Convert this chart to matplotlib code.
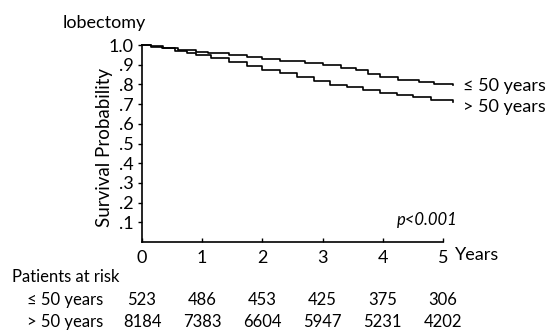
import matplotlib
matplotlib.use("Agg")
import matplotlib.pyplot as plt
from matplotlib.transforms import blended_transform_factory

plt.rcParams['font.family'] = ['Lato', 'DejaVu Sans']

# Kaplan-Meier step data
t_young = [0, 0.15, 0.35, 0.6, 0.9, 1.1, 1.45, 1.75, 2.0, 2.3, 2.7, 3.0, 3.3, 3.55, 3.75, 3.95, 4.25, 4.6, 4.85, 5.17]
s_young = [1.0, 0.995, 0.985, 0.975, 0.966, 0.958, 0.949, 0.940, 0.928, 0.920, 0.908, 0.898, 0.885, 0.874, 0.852, 0.836, 0.820, 0.812, 0.804, 0.797]

t_old = [0, 0.15, 0.33, 0.55, 0.75, 0.9, 1.15, 1.45, 1.75, 2.0, 2.3, 2.57, 2.85, 3.12, 3.4, 3.67, 3.95, 4.23, 4.5, 4.8, 5.17]
s_old = [1.0, 0.992, 0.983, 0.970, 0.958, 0.949, 0.932, 0.915, 0.895, 0.873, 0.856, 0.839, 0.818, 0.797, 0.785, 0.772, 0.758, 0.746, 0.735, 0.722, 0.712]

x_ticks = [0, 1, 2, 3, 4, 5]
y_ticks = [0.1, 0.2, 0.3, 0.4, 0.5, 0.6, 0.7, 0.8, 0.9, 1.0]
y_ticklabels = ['.1', '.2', '.3', '.4', '.5', '.6', '.7', '.8', '.9', '1.0']

risk_young = [523, 486, 453, 425, 375, 306]
risk_old = [8184, 7383, 6604, 5947, 5231, 4202]
group_labels = ['\u2264 50 years', '> 50 years']

fig = plt.figure(figsize=(5.54, 3.34), dpi=100)
ax = fig.add_axes([142/554, 1 - 242/334, (443-142)/554, (242-45)/334])

ax.plot(t_young, s_young, drawstyle='steps-post', color='black', lw=1.2, clip_on=False)
ax.plot(t_old, s_old, drawstyle='steps-post', color='black', lw=1.2, clip_on=False)

ax.set_xlim(0, 5)
ax.set_ylim(0, 1.0)
ax.set_xticks(x_ticks)
ax.set_xticklabels([str(x) for x in x_ticks], fontsize=13)
ax.set_yticks(y_ticks)
ax.set_yticklabels(y_ticklabels, fontsize=13)
ax.tick_params(axis='y', length=3, width=1, pad=3)
ax.tick_params(axis='x', length=3, width=1, direction='in', pad=6)
for sp in ['top', 'right']:
    ax.spines[sp].set_visible(False)
for sp in ['left', 'bottom']:
    ax.spines[sp].set_linewidth(1.2)

ax.set_ylabel('Survival Probability', fontsize=13.5, va='center')
ax.yaxis.set_label_coords(-0.125, 0.48)

# curve labels
ax.text(5.33, s_young[-1] - 0.005, group_labels[0], fontsize=13, va='center', ha='left', clip_on=False)
ax.text(5.33, s_old[-1] - 0.025, group_labels[1], fontsize=13, va='center', ha='left', clip_on=False)

ax.text(5.25, 0.11, 'p<0.001', fontsize=12, style='italic', ha='right', va='center')
ax.text(5.2, -0.065, 'Years', fontsize=13, ha='left', va='center', clip_on=False)

fig.text(63/554, 1 - 23/334, 'lobectomy', fontsize=13, ha='left', va='center')

# risk table
trans = blended_transform_factory(ax.transData, fig.transFigure)
fig.text(12/554, 1 - 277/334, 'Patients at risk', fontsize=12, ha='left', va='center')
fig.text(27/554, 1 - 300/334, group_labels[0], fontsize=12, ha='left', va='center')
fig.text(27/554, 1 - 322/334, group_labels[1], fontsize=12, ha='left', va='center')
for x, a, b in zip(x_ticks, risk_young, risk_old):
    ax.text(x, 1 - 300/334, str(a), fontsize=12, ha='center', va='center', transform=trans)
    ax.text(x, 1 - 322/334, str(b), fontsize=12, ha='center', va='center', transform=trans)

fig.savefig('out.png', dpi=100)
